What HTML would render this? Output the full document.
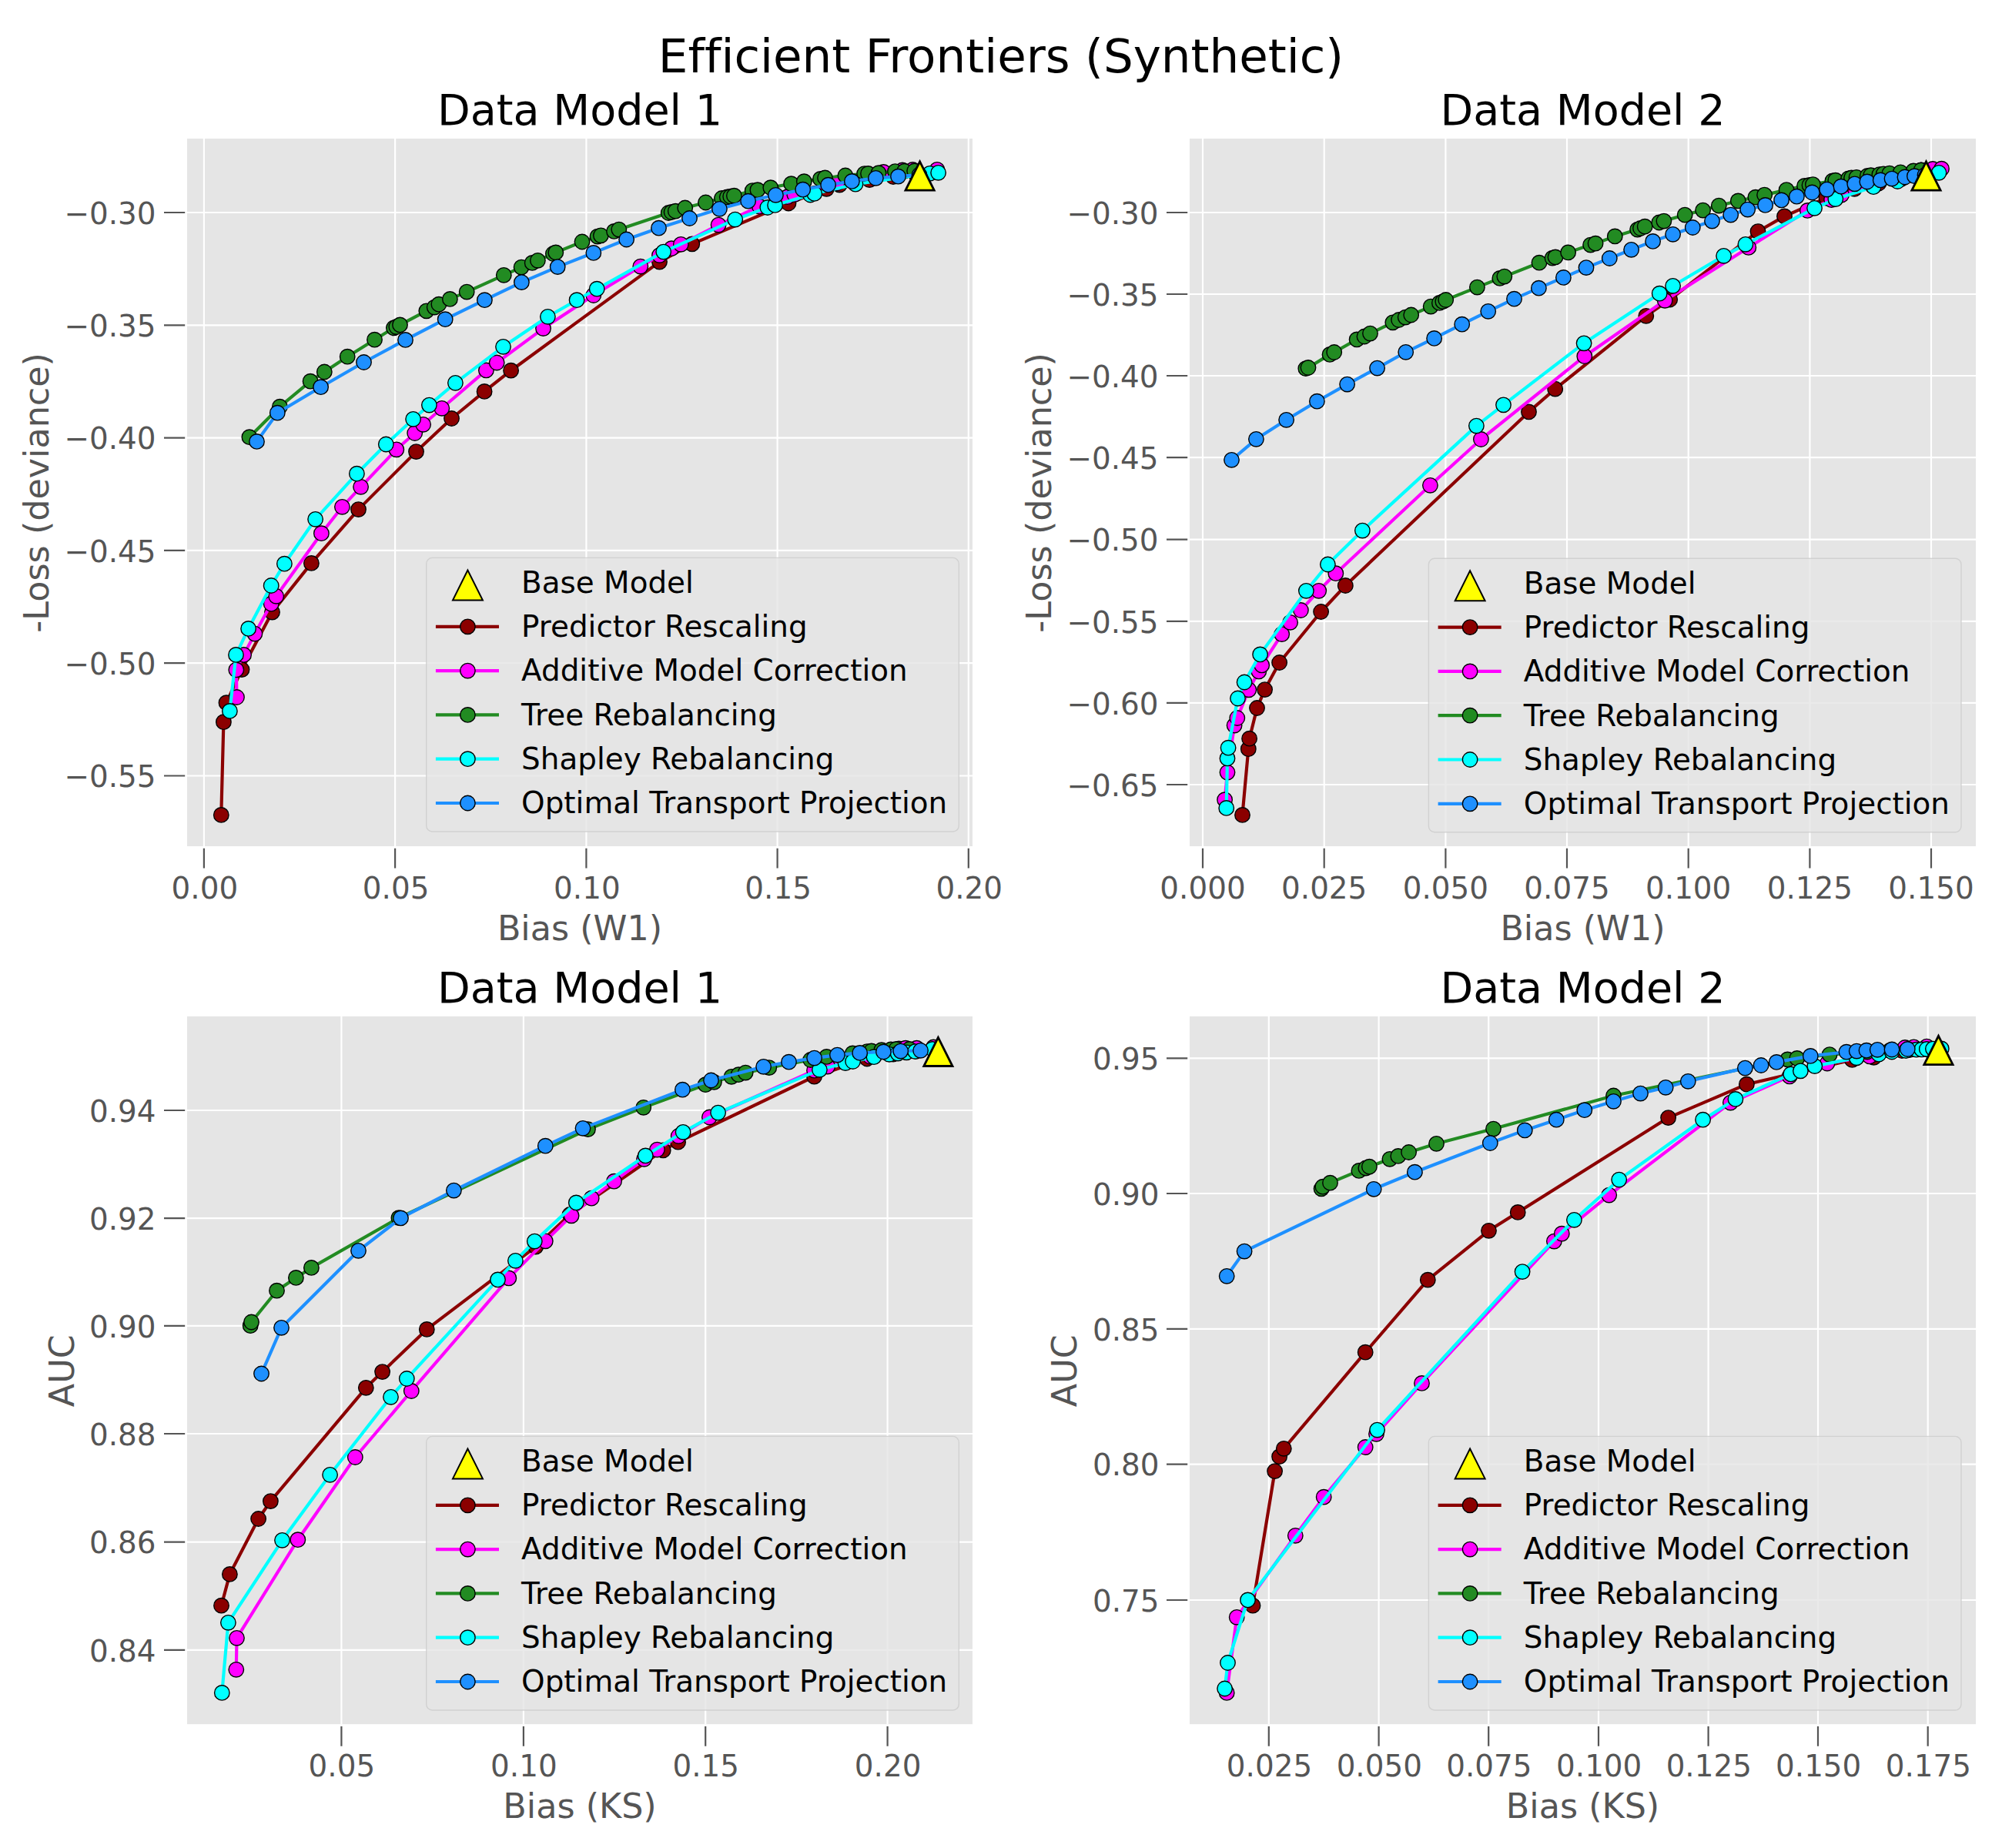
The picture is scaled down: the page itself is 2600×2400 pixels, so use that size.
<!DOCTYPE html>
<html><head><meta charset="utf-8"><title>Efficient Frontiers (Synthetic)</title>
<style>html,body{margin:0;padding:0;background:#fff}svg{display:block;font-variant-ligatures:none;font-feature-settings:"liga" 0,"clig" 0}</style></head>
<body>
<svg width="2600" height="2400" viewBox="0 0 2600 2400" font-family='"DejaVu Sans","Liberation Sans",sans-serif'>
<rect width="2600" height="2400" fill="#fff"/>
<defs>
<clipPath id="c1"><rect x="243" y="180" width="1020" height="919"/></clipPath>
<clipPath id="c2"><rect x="1545" y="180" width="1021" height="919"/></clipPath>
<clipPath id="c3"><rect x="243" y="1320" width="1020" height="919.2"/></clipPath>
<clipPath id="c4"><rect x="1545" y="1320" width="1021" height="919.2"/></clipPath>
</defs>
<text x="1300" y="94" font-size="61.1" text-anchor="middle" fill="#000">Efficient Frontiers (Synthetic)</text>
<g id="ax1">
<rect x="243" y="180" width="1020" height="919" fill="#E5E5E5"/>
<path d="M264.9 180V1099M513.1 180V1099M761.4 180V1099M1009.6 180V1099M1257.8 180V1099M243 276H1263M243 422.3H1263M243 568.6H1263M243 714.9H1263M243 861.2H1263M243 1007.5H1263" stroke="#fff" stroke-width="2.2" fill="none"/>
<path d="M264.9 1101.8V1127.6M513.1 1101.8V1127.6M761.4 1101.8V1127.6M1009.6 1101.8V1127.6M1257.8 1101.8V1127.6M240.2 276H213M240.2 422.3H213M240.2 568.6H213M240.2 714.9H213M240.2 861.2H213M240.2 1007.5H213" stroke="#555555" stroke-width="2.2" fill="none"/>
<g font-size="38.89" fill="#555555">
<text x="265.9" y="1167" text-anchor="middle">0.00</text>
<text x="514.1" y="1167" text-anchor="middle">0.05</text>
<text x="762.4" y="1167" text-anchor="middle">0.10</text>
<text x="1010.6" y="1167" text-anchor="middle">0.15</text>
<text x="1258.8" y="1167" text-anchor="middle">0.20</text>
<text x="202.6" y="290.7" text-anchor="end">−0.30</text>
<text x="202.6" y="437" text-anchor="end">−0.35</text>
<text x="202.6" y="583.3" text-anchor="end">−0.40</text>
<text x="202.6" y="729.6" text-anchor="end">−0.45</text>
<text x="202.6" y="875.9" text-anchor="end">−0.50</text>
<text x="202.6" y="1022.2" text-anchor="end">−0.55</text>
</g>
<text x="753" y="1221" font-size="44.44" text-anchor="middle" fill="#555555">Bias (W1)</text>
<text transform="translate(63.3 639.9) rotate(-90)" font-size="44.44" text-anchor="middle" fill="#555555">-Loss (deviance)</text>
<text x="753" y="161.6" font-size="55.56" text-anchor="middle" fill="#000">Data Model 1</text>
<g clip-path="url(#c1)">
<polyline points="287.3,1058.4 290.4,937.7 294,912.7 314,869.6 353.5,795.1 404.4,731.4 465.5,661.6 540.5,586.6 586.5,543.5 629.1,508.4 663.6,481.2 856.5,340.1 898.8,316.8 1024,264 1073.4,245.3 1090.3,240.1 1129.2,233.6 1160,229.5 1190,227" fill="none" stroke="#8B0000" stroke-width="4.17" stroke-linejoin="round" stroke-linecap="square"/>
<g fill="#8B0000" stroke="#000" stroke-width="1.4"><circle cx="287.3" cy="1058.4" r="9.72"/><circle cx="290.4" cy="937.7" r="9.72"/><circle cx="294" cy="912.7" r="9.72"/><circle cx="314" cy="869.6" r="9.72"/><circle cx="353.5" cy="795.1" r="9.72"/><circle cx="404.4" cy="731.4" r="9.72"/><circle cx="465.5" cy="661.6" r="9.72"/><circle cx="540.5" cy="586.6" r="9.72"/><circle cx="586.5" cy="543.5" r="9.72"/><circle cx="629.1" cy="508.4" r="9.72"/><circle cx="663.6" cy="481.2" r="9.72"/><circle cx="856.5" cy="340.1" r="9.72"/><circle cx="898.8" cy="316.8" r="9.72"/><circle cx="1024" cy="264" r="9.72"/><circle cx="1073.4" cy="245.3" r="9.72"/><circle cx="1090.3" cy="240.1" r="9.72"/><circle cx="1129.2" cy="233.6" r="9.72"/><circle cx="1160" cy="229.5" r="9.72"/><circle cx="1190" cy="227" r="9.72"/></g>
<polyline points="307.5,905.5 306.8,869.9 316.6,850.4 330.9,823.1 352.2,784.2 358.7,774.3 417.4,692.7 444.4,658.3 468.6,632.3 514.8,583.8 538.7,562.5 549.6,551.3 573.8,530.3 631.4,480.9 645.2,471 705.5,426.6 770.8,383.5 831.8,346.1 856.5,331.6 872.1,322.7 884.3,317.3 933.1,292.1 986.4,268.2 1022.7,255.7 1031.8,252.6 1087,238 1147.4,223.4 1172,221 1185.3,220.5 1217,220.3" fill="none" stroke="#FF00FF" stroke-width="4.17" stroke-linejoin="round" stroke-linecap="square"/>
<g fill="#FF00FF" stroke="#000" stroke-width="1.4"><circle cx="307.5" cy="905.5" r="9.72"/><circle cx="306.8" cy="869.9" r="9.72"/><circle cx="316.6" cy="850.4" r="9.72"/><circle cx="330.9" cy="823.1" r="9.72"/><circle cx="352.2" cy="784.2" r="9.72"/><circle cx="358.7" cy="774.3" r="9.72"/><circle cx="417.4" cy="692.7" r="9.72"/><circle cx="444.4" cy="658.3" r="9.72"/><circle cx="468.6" cy="632.3" r="9.72"/><circle cx="514.8" cy="583.8" r="9.72"/><circle cx="538.7" cy="562.5" r="9.72"/><circle cx="549.6" cy="551.3" r="9.72"/><circle cx="573.8" cy="530.3" r="9.72"/><circle cx="631.4" cy="480.9" r="9.72"/><circle cx="645.2" cy="471" r="9.72"/><circle cx="705.5" cy="426.6" r="9.72"/><circle cx="770.8" cy="383.5" r="9.72"/><circle cx="831.8" cy="346.1" r="9.72"/><circle cx="856.5" cy="331.6" r="9.72"/><circle cx="872.1" cy="322.7" r="9.72"/><circle cx="884.3" cy="317.3" r="9.72"/><circle cx="933.1" cy="292.1" r="9.72"/><circle cx="986.4" cy="268.2" r="9.72"/><circle cx="1022.7" cy="255.7" r="9.72"/><circle cx="1031.8" cy="252.6" r="9.72"/><circle cx="1087" cy="238" r="9.72"/><circle cx="1147.4" cy="223.4" r="9.72"/><circle cx="1172" cy="221" r="9.72"/><circle cx="1185.3" cy="220.5" r="9.72"/><circle cx="1217" cy="220.3" r="9.72"/></g>
<polyline points="323.9,567.7 363.4,528.2 403.1,495.2 421.3,483 451.2,463.2 486.5,441.2 511.4,425.8 514.8,424.5 519.5,421.9 553.8,403.8 564.2,399.1 569.9,395.2 584.4,388.4 606.2,379.1 654.3,357.3 677.1,347.1 691.2,341.4 698.4,338.3 718.4,329.5 721.8,327.9 756,314 776,307.1 780.4,305.8 797.5,300.4 803.8,298.1 868.2,276.5 872.1,275.5 877.3,274.2 889.7,270 916.5,263 937.5,257.5 944.3,256 948.7,255.2 953.4,254.2 977.2,247.6 983.9,246.7 1000.8,243.7 1027.6,238.7 1044.3,235.7 1065.4,232.4 1071.5,231 1097.9,228 1122.6,225.6 1127.5,225.4 1141,224.7 1162.5,222.6 1174.6,222.2 1187.6,222" fill="none" stroke="#228B22" stroke-width="4.17" stroke-linejoin="round" stroke-linecap="square"/>
<g fill="#228B22" stroke="#000" stroke-width="1.4"><circle cx="323.9" cy="567.7" r="9.72"/><circle cx="363.4" cy="528.2" r="9.72"/><circle cx="403.1" cy="495.2" r="9.72"/><circle cx="421.3" cy="483" r="9.72"/><circle cx="451.2" cy="463.2" r="9.72"/><circle cx="486.5" cy="441.2" r="9.72"/><circle cx="511.4" cy="425.8" r="9.72"/><circle cx="514.8" cy="424.5" r="9.72"/><circle cx="519.5" cy="421.9" r="9.72"/><circle cx="553.8" cy="403.8" r="9.72"/><circle cx="564.2" cy="399.1" r="9.72"/><circle cx="569.9" cy="395.2" r="9.72"/><circle cx="584.4" cy="388.4" r="9.72"/><circle cx="606.2" cy="379.1" r="9.72"/><circle cx="654.3" cy="357.3" r="9.72"/><circle cx="677.1" cy="347.1" r="9.72"/><circle cx="691.2" cy="341.4" r="9.72"/><circle cx="698.4" cy="338.3" r="9.72"/><circle cx="718.4" cy="329.5" r="9.72"/><circle cx="721.8" cy="327.9" r="9.72"/><circle cx="756" cy="314" r="9.72"/><circle cx="776" cy="307.1" r="9.72"/><circle cx="780.4" cy="305.8" r="9.72"/><circle cx="797.5" cy="300.4" r="9.72"/><circle cx="803.8" cy="298.1" r="9.72"/><circle cx="868.2" cy="276.5" r="9.72"/><circle cx="872.1" cy="275.5" r="9.72"/><circle cx="877.3" cy="274.2" r="9.72"/><circle cx="889.7" cy="270" r="9.72"/><circle cx="916.5" cy="263" r="9.72"/><circle cx="937.5" cy="257.5" r="9.72"/><circle cx="944.3" cy="256" r="9.72"/><circle cx="948.7" cy="255.2" r="9.72"/><circle cx="953.4" cy="254.2" r="9.72"/><circle cx="977.2" cy="247.6" r="9.72"/><circle cx="983.9" cy="246.7" r="9.72"/><circle cx="1000.8" cy="243.7" r="9.72"/><circle cx="1027.6" cy="238.7" r="9.72"/><circle cx="1044.3" cy="235.7" r="9.72"/><circle cx="1065.4" cy="232.4" r="9.72"/><circle cx="1071.5" cy="231" r="9.72"/><circle cx="1097.9" cy="228" r="9.72"/><circle cx="1122.6" cy="225.6" r="9.72"/><circle cx="1127.5" cy="225.4" r="9.72"/><circle cx="1141" cy="224.7" r="9.72"/><circle cx="1162.5" cy="222.6" r="9.72"/><circle cx="1174.6" cy="222.2" r="9.72"/><circle cx="1187.6" cy="222" r="9.72"/></g>
<polyline points="298.4,923.4 306.5,850.4 322.6,816.4 352.2,760.5 369.4,732.2 409.6,674.3 463.4,615.2 501.3,577 536.6,544.3 557.4,526.1 591.4,497.3 653.5,450.3 711.4,411.3 749.1,389.7 775.2,375.2 861.7,327.1 954.7,285.1 996.8,269.5 1006.6,266.4 1052.4,253 1057.7,251.4 1111,239.2 1207.5,225.3 1218.6,224.3" fill="none" stroke="#00FFFF" stroke-width="4.17" stroke-linejoin="round" stroke-linecap="square"/>
<g fill="#00FFFF" stroke="#000" stroke-width="1.4"><circle cx="298.4" cy="923.4" r="9.72"/><circle cx="306.5" cy="850.4" r="9.72"/><circle cx="322.6" cy="816.4" r="9.72"/><circle cx="352.2" cy="760.5" r="9.72"/><circle cx="369.4" cy="732.2" r="9.72"/><circle cx="409.6" cy="674.3" r="9.72"/><circle cx="463.4" cy="615.2" r="9.72"/><circle cx="501.3" cy="577" r="9.72"/><circle cx="536.6" cy="544.3" r="9.72"/><circle cx="557.4" cy="526.1" r="9.72"/><circle cx="591.4" cy="497.3" r="9.72"/><circle cx="653.5" cy="450.3" r="9.72"/><circle cx="711.4" cy="411.3" r="9.72"/><circle cx="749.1" cy="389.7" r="9.72"/><circle cx="775.2" cy="375.2" r="9.72"/><circle cx="861.7" cy="327.1" r="9.72"/><circle cx="954.7" cy="285.1" r="9.72"/><circle cx="996.8" cy="269.5" r="9.72"/><circle cx="1006.6" cy="266.4" r="9.72"/><circle cx="1052.4" cy="253" r="9.72"/><circle cx="1057.7" cy="251.4" r="9.72"/><circle cx="1111" cy="239.2" r="9.72"/><circle cx="1207.5" cy="225.3" r="9.72"/><circle cx="1218.6" cy="224.3" r="9.72"/></g>
<polyline points="333.5,573.4 360.3,536.2 416.6,502.7 472.5,470.5 526.5,441.4 578.2,414.7 629.4,389.7 677.4,366.6 724.2,346.6 770.8,328.4 813.6,311 855.5,296.2 895.5,283.5 934.4,271.3 971.6,261.2 1007.4,253.3 1042.7,246.2 1075.6,240.2 1106.4,235.4 1137.4,231.3 1166.5,229.2 1194,227" fill="none" stroke="#1E90FF" stroke-width="4.17" stroke-linejoin="round" stroke-linecap="square"/>
<g fill="#1E90FF" stroke="#000" stroke-width="1.4"><circle cx="333.5" cy="573.4" r="9.72"/><circle cx="360.3" cy="536.2" r="9.72"/><circle cx="416.6" cy="502.7" r="9.72"/><circle cx="472.5" cy="470.5" r="9.72"/><circle cx="526.5" cy="441.4" r="9.72"/><circle cx="578.2" cy="414.7" r="9.72"/><circle cx="629.4" cy="389.7" r="9.72"/><circle cx="677.4" cy="366.6" r="9.72"/><circle cx="724.2" cy="346.6" r="9.72"/><circle cx="770.8" cy="328.4" r="9.72"/><circle cx="813.6" cy="311" r="9.72"/><circle cx="855.5" cy="296.2" r="9.72"/><circle cx="895.5" cy="283.5" r="9.72"/><circle cx="934.4" cy="271.3" r="9.72"/><circle cx="971.6" cy="261.2" r="9.72"/><circle cx="1007.4" cy="253.3" r="9.72"/><circle cx="1042.7" cy="246.2" r="9.72"/><circle cx="1075.6" cy="240.2" r="9.72"/><circle cx="1106.4" cy="235.4" r="9.72"/><circle cx="1137.4" cy="231.3" r="9.72"/><circle cx="1166.5" cy="229.2" r="9.72"/><circle cx="1194" cy="227" r="9.72"/></g>
<path d="M1194.6 209.9L1176 247.1L1213.2 247.1Z" fill="#FFFF00" stroke="#000" stroke-width="2.8" stroke-linejoin="miter" stroke-miterlimit="10"/>
</g>
<rect x="553.7" y="724.4" width="691.6" height="355.6" rx="7.8" fill="#E5E5E5" fill-opacity="0.8" stroke="#CCCCCC" stroke-opacity="0.8" stroke-width="1.4"/>
<path d="M607.4 740.5L588 779.5L626.9 779.5Z" fill="#FFFF00" stroke="#000" stroke-width="2.0" stroke-linejoin="miter" stroke-miterlimit="10"/>
<g font-size="38.89" fill="#000">
<text x="677.1" y="769.8">Base Model</text>
<path d="M568 813.8H645.9" stroke="#8B0000" stroke-width="4.17" stroke-linecap="square"/>
<circle cx="607.4" cy="813.8" r="9.72" fill="#8B0000" stroke="#000" stroke-width="1.4"/>
<text x="677.1" y="827.1">Predictor Rescaling</text>
<path d="M568 871.1H645.9" stroke="#FF00FF" stroke-width="4.17" stroke-linecap="square"/>
<circle cx="607.4" cy="871.1" r="9.72" fill="#FF00FF" stroke="#000" stroke-width="1.4"/>
<text x="677.1" y="884.4">Additive Model Correction</text>
<path d="M568 928.4H645.9" stroke="#228B22" stroke-width="4.17" stroke-linecap="square"/>
<circle cx="607.4" cy="928.4" r="9.72" fill="#228B22" stroke="#000" stroke-width="1.4"/>
<text x="677.1" y="941.7">Tree Rebalancing</text>
<path d="M568 985.7H645.9" stroke="#00FFFF" stroke-width="4.17" stroke-linecap="square"/>
<circle cx="607.4" cy="985.7" r="9.72" fill="#00FFFF" stroke="#000" stroke-width="1.4"/>
<text x="677.1" y="999">Shapley Rebalancing</text>
<path d="M568 1043H645.9" stroke="#1E90FF" stroke-width="4.17" stroke-linecap="square"/>
<circle cx="607.4" cy="1043" r="9.72" fill="#1E90FF" stroke="#000" stroke-width="1.4"/>
<text x="677.1" y="1056.3">Optimal Transport Projection</text>
</g>
</g>
<g id="ax2">
<rect x="1545" y="180" width="1021" height="919" fill="#E5E5E5"/>
<path d="M1562 180V1099M1719.7 180V1099M1877.4 180V1099M2035 180V1099M2192.7 180V1099M2350.4 180V1099M2508 180V1099M1545 276H2566M1545 382H2566M1545 488H2566M1545 594.1H2566M1545 700.6H2566M1545 806.8H2566M1545 912.8H2566M1545 1019H2566" stroke="#fff" stroke-width="2.2" fill="none"/>
<path d="M1562 1101.8V1127.6M1719.7 1101.8V1127.6M1877.4 1101.8V1127.6M2035 1101.8V1127.6M2192.7 1101.8V1127.6M2350.4 1101.8V1127.6M2508 1101.8V1127.6M1542.2 276H1515M1542.2 382H1515M1542.2 488H1515M1542.2 594.1H1515M1542.2 700.6H1515M1542.2 806.8H1515M1542.2 912.8H1515M1542.2 1019H1515" stroke="#555555" stroke-width="2.2" fill="none"/>
<g font-size="38.89" fill="#555555">
<text x="1562" y="1167" text-anchor="middle">0.000</text>
<text x="1719.7" y="1167" text-anchor="middle">0.025</text>
<text x="1877.4" y="1167" text-anchor="middle">0.050</text>
<text x="2035" y="1167" text-anchor="middle">0.075</text>
<text x="2192.7" y="1167" text-anchor="middle">0.100</text>
<text x="2350.4" y="1167" text-anchor="middle">0.125</text>
<text x="2508" y="1167" text-anchor="middle">0.150</text>
<text x="1504.6" y="290.7" text-anchor="end">−0.30</text>
<text x="1504.6" y="396.7" text-anchor="end">−0.35</text>
<text x="1504.6" y="502.7" text-anchor="end">−0.40</text>
<text x="1504.6" y="608.8" text-anchor="end">−0.45</text>
<text x="1504.6" y="715.3" text-anchor="end">−0.50</text>
<text x="1504.6" y="821.5" text-anchor="end">−0.55</text>
<text x="1504.6" y="927.5" text-anchor="end">−0.60</text>
<text x="1504.6" y="1033.7" text-anchor="end">−0.65</text>
</g>
<text x="2055.5" y="1221" font-size="44.44" text-anchor="middle" fill="#555555">Bias (W1)</text>
<text transform="translate(1365.3 639.9) rotate(-90)" font-size="44.44" text-anchor="middle" fill="#555555">-Loss (deviance)</text>
<text x="2055.5" y="161.6" font-size="55.56" text-anchor="middle" fill="#000">Data Model 2</text>
<g clip-path="url(#c2)">
<polyline points="1613.5,1058.4 1621.3,972.7 1622.6,959.2 1632.5,919.5 1642.6,895.6 1661.6,860.5 1715.6,794.5 1747.3,760.5 1985.5,534.9 2019.7,505.1 2137.8,410.3 2168.7,389 2283,300.6 2317.5,280.9 2372,257 2408.4,245.3 2440,238 2470,232 2500,228" fill="none" stroke="#8B0000" stroke-width="4.17" stroke-linejoin="round" stroke-linecap="square"/>
<g fill="#8B0000" stroke="#000" stroke-width="1.4"><circle cx="1613.5" cy="1058.4" r="9.72"/><circle cx="1621.3" cy="972.7" r="9.72"/><circle cx="1622.6" cy="959.2" r="9.72"/><circle cx="1632.5" cy="919.5" r="9.72"/><circle cx="1642.6" cy="895.6" r="9.72"/><circle cx="1661.6" cy="860.5" r="9.72"/><circle cx="1715.6" cy="794.5" r="9.72"/><circle cx="1747.3" cy="760.5" r="9.72"/><circle cx="1985.5" cy="534.9" r="9.72"/><circle cx="2019.7" cy="505.1" r="9.72"/><circle cx="2137.8" cy="410.3" r="9.72"/><circle cx="2168.7" cy="389" r="9.72"/><circle cx="2283" cy="300.6" r="9.72"/><circle cx="2317.5" cy="280.9" r="9.72"/><circle cx="2372" cy="257" r="9.72"/><circle cx="2408.4" cy="245.3" r="9.72"/><circle cx="2440" cy="238" r="9.72"/><circle cx="2470" cy="232" r="9.72"/><circle cx="2500" cy="228" r="9.72"/></g>
<polyline points="1590.6,1038.7 1594,1003.1 1603.1,942.1 1606.8,932.5 1621.8,895.8 1634.8,871.9 1638.7,863.9 1664.7,823.6 1675.6,808.3 1689.4,792.5 1712.7,767.3 1734.8,744.7 1857.4,630.3 1923.4,570.5 2057.8,462.7 2162.2,390.3 2270.8,321.4 2347.4,273.4 2378.6,259.6 2391.6,253.1 2430,240 2460,232 2495,221 2510,219.5 2521.5,219.2" fill="none" stroke="#FF00FF" stroke-width="4.17" stroke-linejoin="round" stroke-linecap="square"/>
<g fill="#FF00FF" stroke="#000" stroke-width="1.4"><circle cx="1590.6" cy="1038.7" r="9.72"/><circle cx="1594" cy="1003.1" r="9.72"/><circle cx="1603.1" cy="942.1" r="9.72"/><circle cx="1606.8" cy="932.5" r="9.72"/><circle cx="1621.8" cy="895.8" r="9.72"/><circle cx="1634.8" cy="871.9" r="9.72"/><circle cx="1638.7" cy="863.9" r="9.72"/><circle cx="1664.7" cy="823.6" r="9.72"/><circle cx="1675.6" cy="808.3" r="9.72"/><circle cx="1689.4" cy="792.5" r="9.72"/><circle cx="1712.7" cy="767.3" r="9.72"/><circle cx="1734.8" cy="744.7" r="9.72"/><circle cx="1857.4" cy="630.3" r="9.72"/><circle cx="1923.4" cy="570.5" r="9.72"/><circle cx="2057.8" cy="462.7" r="9.72"/><circle cx="2162.2" cy="390.3" r="9.72"/><circle cx="2270.8" cy="321.4" r="9.72"/><circle cx="2347.4" cy="273.4" r="9.72"/><circle cx="2378.6" cy="259.6" r="9.72"/><circle cx="2391.6" cy="253.1" r="9.72"/><circle cx="2430" cy="240" r="9.72"/><circle cx="2460" cy="232" r="9.72"/><circle cx="2495" cy="221" r="9.72"/><circle cx="2510" cy="219.5" r="9.72"/><circle cx="2521.5" cy="219.2" r="9.72"/></g>
<polyline points="1695.8,478.6 1699,477.5 1727,460.4 1732.7,457.5 1762.1,440.9 1772,437 1779.5,433.1 1808.8,418.8 1816.6,415.5 1825.2,412.1 1832.7,409 1858.2,398.1 1869.4,393.4 1873.8,391.6 1877.7,389.5 1918.4,373.1 1947.8,361.4 1953.8,359.1 1999,341.2 2016.1,335.2 2020,333.9 2036.6,327.9 2065.6,318.1 2072.1,316.2 2097.3,306.9 2126.6,298.1 2130.5,296.5 2136.2,294.2 2154.7,289 2160.9,287.1 2188.2,279.1 2211.6,273.1 2232.3,267.1 2257.3,260.9 2279.9,256.2 2291.6,253.1 2320.1,246.6 2343.5,241.4 2350,240.4 2354.4,239.6 2379.9,234.9 2383.8,234.2 2400.6,231.8 2404.5,231 2411,230.3 2425.3,228.4 2429.7,227.7 2440.9,226.6 2446.1,225.8 2453.9,225.1 2468.2,223.8 2485,221.9 2495,221" fill="none" stroke="#228B22" stroke-width="4.17" stroke-linejoin="round" stroke-linecap="square"/>
<g fill="#228B22" stroke="#000" stroke-width="1.4"><circle cx="1695.8" cy="478.6" r="9.72"/><circle cx="1699" cy="477.5" r="9.72"/><circle cx="1727" cy="460.4" r="9.72"/><circle cx="1732.7" cy="457.5" r="9.72"/><circle cx="1762.1" cy="440.9" r="9.72"/><circle cx="1772" cy="437" r="9.72"/><circle cx="1779.5" cy="433.1" r="9.72"/><circle cx="1808.8" cy="418.8" r="9.72"/><circle cx="1816.6" cy="415.5" r="9.72"/><circle cx="1825.2" cy="412.1" r="9.72"/><circle cx="1832.7" cy="409" r="9.72"/><circle cx="1858.2" cy="398.1" r="9.72"/><circle cx="1869.4" cy="393.4" r="9.72"/><circle cx="1873.8" cy="391.6" r="9.72"/><circle cx="1877.7" cy="389.5" r="9.72"/><circle cx="1918.4" cy="373.1" r="9.72"/><circle cx="1947.8" cy="361.4" r="9.72"/><circle cx="1953.8" cy="359.1" r="9.72"/><circle cx="1999" cy="341.2" r="9.72"/><circle cx="2016.1" cy="335.2" r="9.72"/><circle cx="2020" cy="333.9" r="9.72"/><circle cx="2036.6" cy="327.9" r="9.72"/><circle cx="2065.6" cy="318.1" r="9.72"/><circle cx="2072.1" cy="316.2" r="9.72"/><circle cx="2097.3" cy="306.9" r="9.72"/><circle cx="2126.6" cy="298.1" r="9.72"/><circle cx="2130.5" cy="296.5" r="9.72"/><circle cx="2136.2" cy="294.2" r="9.72"/><circle cx="2154.7" cy="289" r="9.72"/><circle cx="2160.9" cy="287.1" r="9.72"/><circle cx="2188.2" cy="279.1" r="9.72"/><circle cx="2211.6" cy="273.1" r="9.72"/><circle cx="2232.3" cy="267.1" r="9.72"/><circle cx="2257.3" cy="260.9" r="9.72"/><circle cx="2279.9" cy="256.2" r="9.72"/><circle cx="2291.6" cy="253.1" r="9.72"/><circle cx="2320.1" cy="246.6" r="9.72"/><circle cx="2343.5" cy="241.4" r="9.72"/><circle cx="2350" cy="240.4" r="9.72"/><circle cx="2354.4" cy="239.6" r="9.72"/><circle cx="2379.9" cy="234.9" r="9.72"/><circle cx="2383.8" cy="234.2" r="9.72"/><circle cx="2400.6" cy="231.8" r="9.72"/><circle cx="2404.5" cy="231" r="9.72"/><circle cx="2411" cy="230.3" r="9.72"/><circle cx="2425.3" cy="228.4" r="9.72"/><circle cx="2429.7" cy="227.7" r="9.72"/><circle cx="2440.9" cy="226.6" r="9.72"/><circle cx="2446.1" cy="225.8" r="9.72"/><circle cx="2453.9" cy="225.1" r="9.72"/><circle cx="2468.2" cy="223.8" r="9.72"/><circle cx="2485" cy="221.9" r="9.72"/><circle cx="2495" cy="221" r="9.72"/></g>
<polyline points="1592.7,1049.4 1594,984.9 1595.1,971.2 1607.5,907 1616.1,886 1636.6,849.9 1696.4,767.3 1724.4,733 1769.4,689.1 1917.4,553.1 1952.5,525.8 2057.1,445.8 2155.2,381.2 2172.6,371.3 2238.6,332.3 2266.9,317.3 2356.5,270.3 2383.8,258.6 2433.1,242.7 2464.3,235.5 2518,224.3" fill="none" stroke="#00FFFF" stroke-width="4.17" stroke-linejoin="round" stroke-linecap="square"/>
<g fill="#00FFFF" stroke="#000" stroke-width="1.4"><circle cx="1592.7" cy="1049.4" r="9.72"/><circle cx="1594" cy="984.9" r="9.72"/><circle cx="1595.1" cy="971.2" r="9.72"/><circle cx="1607.5" cy="907" r="9.72"/><circle cx="1616.1" cy="886" r="9.72"/><circle cx="1636.6" cy="849.9" r="9.72"/><circle cx="1696.4" cy="767.3" r="9.72"/><circle cx="1724.4" cy="733" r="9.72"/><circle cx="1769.4" cy="689.1" r="9.72"/><circle cx="1917.4" cy="553.1" r="9.72"/><circle cx="1952.5" cy="525.8" r="9.72"/><circle cx="2057.1" cy="445.8" r="9.72"/><circle cx="2155.2" cy="381.2" r="9.72"/><circle cx="2172.6" cy="371.3" r="9.72"/><circle cx="2238.6" cy="332.3" r="9.72"/><circle cx="2266.9" cy="317.3" r="9.72"/><circle cx="2356.5" cy="270.3" r="9.72"/><circle cx="2383.8" cy="258.6" r="9.72"/><circle cx="2433.1" cy="242.7" r="9.72"/><circle cx="2464.3" cy="235.5" r="9.72"/><circle cx="2518" cy="224.3" r="9.72"/></g>
<polyline points="1599.5,597.3 1631.4,570.3 1670.6,545.3 1710.4,521.2 1749.6,499.1 1788.6,478.1 1825.7,457.3 1862.6,439.4 1898.7,421.2 1932.7,404.3 1966.5,388.2 1998.4,374.2 2030.4,360.4 2060,347.6 2090.3,335.5 2118.6,324.3 2146.6,313.4 2172.6,304.3 2198.3,295.5 2223.5,287.1 2247.7,279.1 2269.7,272.1 2292.6,266.4 2313.6,259.9 2333.4,255.2 2353.4,250 2372.6,246.1 2391,242.2 2408.7,238.8 2424.8,236 2442.2,233.9 2457,232.1 2473.9,230 2486.4,228.7 2500,227.5" fill="none" stroke="#1E90FF" stroke-width="4.17" stroke-linejoin="round" stroke-linecap="square"/>
<g fill="#1E90FF" stroke="#000" stroke-width="1.4"><circle cx="1599.5" cy="597.3" r="9.72"/><circle cx="1631.4" cy="570.3" r="9.72"/><circle cx="1670.6" cy="545.3" r="9.72"/><circle cx="1710.4" cy="521.2" r="9.72"/><circle cx="1749.6" cy="499.1" r="9.72"/><circle cx="1788.6" cy="478.1" r="9.72"/><circle cx="1825.7" cy="457.3" r="9.72"/><circle cx="1862.6" cy="439.4" r="9.72"/><circle cx="1898.7" cy="421.2" r="9.72"/><circle cx="1932.7" cy="404.3" r="9.72"/><circle cx="1966.5" cy="388.2" r="9.72"/><circle cx="1998.4" cy="374.2" r="9.72"/><circle cx="2030.4" cy="360.4" r="9.72"/><circle cx="2060" cy="347.6" r="9.72"/><circle cx="2090.3" cy="335.5" r="9.72"/><circle cx="2118.6" cy="324.3" r="9.72"/><circle cx="2146.6" cy="313.4" r="9.72"/><circle cx="2172.6" cy="304.3" r="9.72"/><circle cx="2198.3" cy="295.5" r="9.72"/><circle cx="2223.5" cy="287.1" r="9.72"/><circle cx="2247.7" cy="279.1" r="9.72"/><circle cx="2269.7" cy="272.1" r="9.72"/><circle cx="2292.6" cy="266.4" r="9.72"/><circle cx="2313.6" cy="259.9" r="9.72"/><circle cx="2333.4" cy="255.2" r="9.72"/><circle cx="2353.4" cy="250" r="9.72"/><circle cx="2372.6" cy="246.1" r="9.72"/><circle cx="2391" cy="242.2" r="9.72"/><circle cx="2408.7" cy="238.8" r="9.72"/><circle cx="2424.8" cy="236" r="9.72"/><circle cx="2442.2" cy="233.9" r="9.72"/><circle cx="2457" cy="232.1" r="9.72"/><circle cx="2473.9" cy="230" r="9.72"/><circle cx="2486.4" cy="228.7" r="9.72"/><circle cx="2500" cy="227.5" r="9.72"/></g>
<path d="M2501.5 209.9L2482.9 247.1L2520.1 247.1Z" fill="#FFFF00" stroke="#000" stroke-width="2.8" stroke-linejoin="miter" stroke-miterlimit="10"/>
</g>
<rect x="1855.4" y="725.2" width="691.6" height="355.6" rx="7.8" fill="#E5E5E5" fill-opacity="0.8" stroke="#CCCCCC" stroke-opacity="0.8" stroke-width="1.4"/>
<path d="M1909.1 741.3L1889.7 780.2L1928.6 780.2Z" fill="#FFFF00" stroke="#000" stroke-width="2.0" stroke-linejoin="miter" stroke-miterlimit="10"/>
<g font-size="38.89" fill="#000">
<text x="1978.8" y="770.6">Base Model</text>
<path d="M1869.7 814.6H1947.6" stroke="#8B0000" stroke-width="4.17" stroke-linecap="square"/>
<circle cx="1909.1" cy="814.6" r="9.72" fill="#8B0000" stroke="#000" stroke-width="1.4"/>
<text x="1978.8" y="827.9">Predictor Rescaling</text>
<path d="M1869.7 871.9H1947.6" stroke="#FF00FF" stroke-width="4.17" stroke-linecap="square"/>
<circle cx="1909.1" cy="871.9" r="9.72" fill="#FF00FF" stroke="#000" stroke-width="1.4"/>
<text x="1978.8" y="885.2">Additive Model Correction</text>
<path d="M1869.7 929.2H1947.6" stroke="#228B22" stroke-width="4.17" stroke-linecap="square"/>
<circle cx="1909.1" cy="929.2" r="9.72" fill="#228B22" stroke="#000" stroke-width="1.4"/>
<text x="1978.8" y="942.5">Tree Rebalancing</text>
<path d="M1869.7 986.5H1947.6" stroke="#00FFFF" stroke-width="4.17" stroke-linecap="square"/>
<circle cx="1909.1" cy="986.5" r="9.72" fill="#00FFFF" stroke="#000" stroke-width="1.4"/>
<text x="1978.8" y="999.8">Shapley Rebalancing</text>
<path d="M1869.7 1043.8H1947.6" stroke="#1E90FF" stroke-width="4.17" stroke-linecap="square"/>
<circle cx="1909.1" cy="1043.8" r="9.72" fill="#1E90FF" stroke="#000" stroke-width="1.4"/>
<text x="1978.8" y="1057.1">Optimal Transport Projection</text>
</g>
</g>
<g id="ax3">
<rect x="243" y="1320" width="1020" height="919.2" fill="#E5E5E5"/>
<path d="M443.4 1320V2239.2M679.9 1320V2239.2M916.2 1320V2239.2M1152.6 1320V2239.2M243 1442H1263M243 1582.1H1263M243 1721.9H1263M243 1862H1263M243 2002.7H1263M243 2142.8H1263" stroke="#fff" stroke-width="2.2" fill="none"/>
<path d="M443.4 2242V2267.8M679.9 2242V2267.8M916.2 2242V2267.8M1152.6 2242V2267.8M240.2 1442H213M240.2 1582.1H213M240.2 1721.9H213M240.2 1862H213M240.2 2002.7H213M240.2 2142.8H213" stroke="#555555" stroke-width="2.2" fill="none"/>
<g font-size="38.89" fill="#555555">
<text x="443.9" y="2307.2" text-anchor="middle">0.05</text>
<text x="680.4" y="2307.2" text-anchor="middle">0.10</text>
<text x="916.7" y="2307.2" text-anchor="middle">0.15</text>
<text x="1153.1" y="2307.2" text-anchor="middle">0.20</text>
<text x="202.6" y="1456.7" text-anchor="end">0.94</text>
<text x="202.6" y="1596.8" text-anchor="end">0.92</text>
<text x="202.6" y="1736.6" text-anchor="end">0.90</text>
<text x="202.6" y="1876.7" text-anchor="end">0.88</text>
<text x="202.6" y="2017.4" text-anchor="end">0.86</text>
<text x="202.6" y="2157.5" text-anchor="end">0.84</text>
</g>
<text x="753" y="2361.2" font-size="44.44" text-anchor="middle" fill="#555555">Bias (KS)</text>
<text transform="translate(95.7 1780.3) rotate(-90)" font-size="44.44" text-anchor="middle" fill="#555555">AUC</text>
<text x="753" y="1301.6" font-size="55.56" text-anchor="middle" fill="#000">Data Model 1</text>
<g clip-path="url(#c3)">
<polyline points="287.5,2085.2 298.4,2044.4 335.6,1972.5 351.4,1949.6 475.3,1802.3 496.6,1781.6 554.3,1726.4 695.8,1619.1 740,1577.5 861.2,1493.9 880.6,1483.2 1057.5,1398.2 1126,1375 1160,1369 1190,1365" fill="none" stroke="#8B0000" stroke-width="4.17" stroke-linejoin="round" stroke-linecap="square"/>
<g fill="#8B0000" stroke="#000" stroke-width="1.4"><circle cx="287.5" cy="2085.2" r="9.72"/><circle cx="298.4" cy="2044.4" r="9.72"/><circle cx="335.6" cy="1972.5" r="9.72"/><circle cx="351.4" cy="1949.6" r="9.72"/><circle cx="475.3" cy="1802.3" r="9.72"/><circle cx="496.6" cy="1781.6" r="9.72"/><circle cx="554.3" cy="1726.4" r="9.72"/><circle cx="695.8" cy="1619.1" r="9.72"/><circle cx="740" cy="1577.5" r="9.72"/><circle cx="861.2" cy="1493.9" r="9.72"/><circle cx="880.6" cy="1483.2" r="9.72"/><circle cx="1057.5" cy="1398.2" r="9.72"/><circle cx="1126" cy="1375" r="9.72"/><circle cx="1160" cy="1369" r="9.72"/><circle cx="1190" cy="1365" r="9.72"/></g>
<polyline points="306.8,2168.3 307.5,2127.3 386.8,1999.7 461.3,1892.5 534.3,1806.5 660.8,1659.9 708.3,1611.8 742.1,1578.8 768.2,1556.2 797.5,1534.2 836.5,1505.3 853.4,1493.1 881.2,1475.5 921.4,1451 1057.5,1390.2 1074.8,1385.1 1130,1372 1167.4,1361.8 1176.1,1361.2 1190.5,1361.2 1212.3,1360" fill="none" stroke="#FF00FF" stroke-width="4.17" stroke-linejoin="round" stroke-linecap="square"/>
<g fill="#FF00FF" stroke="#000" stroke-width="1.4"><circle cx="306.8" cy="2168.3" r="9.72"/><circle cx="307.5" cy="2127.3" r="9.72"/><circle cx="386.8" cy="1999.7" r="9.72"/><circle cx="461.3" cy="1892.5" r="9.72"/><circle cx="534.3" cy="1806.5" r="9.72"/><circle cx="660.8" cy="1659.9" r="9.72"/><circle cx="708.3" cy="1611.8" r="9.72"/><circle cx="742.1" cy="1578.8" r="9.72"/><circle cx="768.2" cy="1556.2" r="9.72"/><circle cx="797.5" cy="1534.2" r="9.72"/><circle cx="836.5" cy="1505.3" r="9.72"/><circle cx="853.4" cy="1493.1" r="9.72"/><circle cx="881.2" cy="1475.5" r="9.72"/><circle cx="921.4" cy="1451" r="9.72"/><circle cx="1057.5" cy="1390.2" r="9.72"/><circle cx="1074.8" cy="1385.1" r="9.72"/><circle cx="1130" cy="1372" r="9.72"/><circle cx="1167.4" cy="1361.8" r="9.72"/><circle cx="1176.1" cy="1361.2" r="9.72"/><circle cx="1190.5" cy="1361.2" r="9.72"/><circle cx="1212.3" cy="1360" r="9.72"/></g>
<polyline points="325.2,1721.7 326.5,1717 359.5,1676.2 384.4,1659.4 404.4,1646.4 517.9,1581.7 763.5,1466.6 835.7,1438.3 916.2,1408.7 927.4,1405.3 950,1398.3 959.1,1395.7 968.2,1393.1 998.8,1386.6 1052.6,1376.5 1073.5,1372.4 1107.3,1367.9 1126.1,1365.6 1131.8,1365 1144.9,1363.7 1157,1363 1164,1362.5 1181,1362.5" fill="none" stroke="#228B22" stroke-width="4.17" stroke-linejoin="round" stroke-linecap="square"/>
<g fill="#228B22" stroke="#000" stroke-width="1.4"><circle cx="325.2" cy="1721.7" r="9.72"/><circle cx="326.5" cy="1717" r="9.72"/><circle cx="359.5" cy="1676.2" r="9.72"/><circle cx="384.4" cy="1659.4" r="9.72"/><circle cx="404.4" cy="1646.4" r="9.72"/><circle cx="517.9" cy="1581.7" r="9.72"/><circle cx="763.5" cy="1466.6" r="9.72"/><circle cx="835.7" cy="1438.3" r="9.72"/><circle cx="916.2" cy="1408.7" r="9.72"/><circle cx="927.4" cy="1405.3" r="9.72"/><circle cx="950" cy="1398.3" r="9.72"/><circle cx="959.1" cy="1395.7" r="9.72"/><circle cx="968.2" cy="1393.1" r="9.72"/><circle cx="998.8" cy="1386.6" r="9.72"/><circle cx="1052.6" cy="1376.5" r="9.72"/><circle cx="1073.5" cy="1372.4" r="9.72"/><circle cx="1107.3" cy="1367.9" r="9.72"/><circle cx="1126.1" cy="1365.6" r="9.72"/><circle cx="1131.8" cy="1365" r="9.72"/><circle cx="1144.9" cy="1363.7" r="9.72"/><circle cx="1157" cy="1363" r="9.72"/><circle cx="1164" cy="1362.5" r="9.72"/><circle cx="1181" cy="1362.5" r="9.72"/></g>
<polyline points="288.3,2198.4 296.4,2107.3 366.5,2000.3 428.6,1915.3 507.5,1814.3 528.3,1790.5 646.5,1661.9 669.4,1637.3 694.3,1612.1 748.3,1561.9 838.3,1500.9 887.1,1470.3 932.6,1445.1 1064.4,1389.3 1098,1380.6 1107.6,1378.5 1135,1372.7 1154.9,1369.3 1166.1,1368.1 1177.3,1366.8 1188.6,1365.6 1211,1362.5" fill="none" stroke="#00FFFF" stroke-width="4.17" stroke-linejoin="round" stroke-linecap="square"/>
<g fill="#00FFFF" stroke="#000" stroke-width="1.4"><circle cx="288.3" cy="2198.4" r="9.72"/><circle cx="296.4" cy="2107.3" r="9.72"/><circle cx="366.5" cy="2000.3" r="9.72"/><circle cx="428.6" cy="1915.3" r="9.72"/><circle cx="507.5" cy="1814.3" r="9.72"/><circle cx="528.3" cy="1790.5" r="9.72"/><circle cx="646.5" cy="1661.9" r="9.72"/><circle cx="669.4" cy="1637.3" r="9.72"/><circle cx="694.3" cy="1612.1" r="9.72"/><circle cx="748.3" cy="1561.9" r="9.72"/><circle cx="838.3" cy="1500.9" r="9.72"/><circle cx="887.1" cy="1470.3" r="9.72"/><circle cx="932.6" cy="1445.1" r="9.72"/><circle cx="1064.4" cy="1389.3" r="9.72"/><circle cx="1098" cy="1380.6" r="9.72"/><circle cx="1107.6" cy="1378.5" r="9.72"/><circle cx="1135" cy="1372.7" r="9.72"/><circle cx="1154.9" cy="1369.3" r="9.72"/><circle cx="1166.1" cy="1368.1" r="9.72"/><circle cx="1177.3" cy="1366.8" r="9.72"/><circle cx="1188.6" cy="1365.6" r="9.72"/><circle cx="1211" cy="1362.5" r="9.72"/></g>
<polyline points="339.5,1784 365.5,1724.3 465.5,1624.3 520.5,1581.9 589.4,1546.1 708.3,1488.2 757,1465.3 886.4,1415.2 923.5,1403 991.6,1385.3 1024.5,1379.2 1057.6,1374.1 1087.4,1370.1 1116.7,1367.4 1147.4,1366 1169.7,1365.1 1195.6,1364.3" fill="none" stroke="#1E90FF" stroke-width="4.17" stroke-linejoin="round" stroke-linecap="square"/>
<g fill="#1E90FF" stroke="#000" stroke-width="1.4"><circle cx="339.5" cy="1784" r="9.72"/><circle cx="365.5" cy="1724.3" r="9.72"/><circle cx="465.5" cy="1624.3" r="9.72"/><circle cx="520.5" cy="1581.9" r="9.72"/><circle cx="589.4" cy="1546.1" r="9.72"/><circle cx="708.3" cy="1488.2" r="9.72"/><circle cx="757" cy="1465.3" r="9.72"/><circle cx="886.4" cy="1415.2" r="9.72"/><circle cx="923.5" cy="1403" r="9.72"/><circle cx="991.6" cy="1385.3" r="9.72"/><circle cx="1024.5" cy="1379.2" r="9.72"/><circle cx="1057.6" cy="1374.1" r="9.72"/><circle cx="1087.4" cy="1370.1" r="9.72"/><circle cx="1116.7" cy="1367.4" r="9.72"/><circle cx="1147.4" cy="1366" r="9.72"/><circle cx="1169.7" cy="1365.1" r="9.72"/><circle cx="1195.6" cy="1364.3" r="9.72"/></g>
<path d="M1218.4 1347.3L1199.8 1384.5L1237 1384.5Z" fill="#FFFF00" stroke="#000" stroke-width="2.8" stroke-linejoin="miter" stroke-miterlimit="10"/>
</g>
<rect x="553.7" y="1865.4" width="691.6" height="355.6" rx="7.8" fill="#E5E5E5" fill-opacity="0.8" stroke="#CCCCCC" stroke-opacity="0.8" stroke-width="1.4"/>
<path d="M607.4 1881.5L588 1920.4L626.9 1920.4Z" fill="#FFFF00" stroke="#000" stroke-width="2.0" stroke-linejoin="miter" stroke-miterlimit="10"/>
<g font-size="38.89" fill="#000">
<text x="677.1" y="1910.8">Base Model</text>
<path d="M568 1954.8H645.9" stroke="#8B0000" stroke-width="4.17" stroke-linecap="square"/>
<circle cx="607.4" cy="1954.8" r="9.72" fill="#8B0000" stroke="#000" stroke-width="1.4"/>
<text x="677.1" y="1968.1">Predictor Rescaling</text>
<path d="M568 2012.1H645.9" stroke="#FF00FF" stroke-width="4.17" stroke-linecap="square"/>
<circle cx="607.4" cy="2012.1" r="9.72" fill="#FF00FF" stroke="#000" stroke-width="1.4"/>
<text x="677.1" y="2025.4">Additive Model Correction</text>
<path d="M568 2069.4H645.9" stroke="#228B22" stroke-width="4.17" stroke-linecap="square"/>
<circle cx="607.4" cy="2069.4" r="9.72" fill="#228B22" stroke="#000" stroke-width="1.4"/>
<text x="677.1" y="2082.7">Tree Rebalancing</text>
<path d="M568 2126.7H645.9" stroke="#00FFFF" stroke-width="4.17" stroke-linecap="square"/>
<circle cx="607.4" cy="2126.7" r="9.72" fill="#00FFFF" stroke="#000" stroke-width="1.4"/>
<text x="677.1" y="2140">Shapley Rebalancing</text>
<path d="M568 2184H645.9" stroke="#1E90FF" stroke-width="4.17" stroke-linecap="square"/>
<circle cx="607.4" cy="2184" r="9.72" fill="#1E90FF" stroke="#000" stroke-width="1.4"/>
<text x="677.1" y="2197.3">Optimal Transport Projection</text>
</g>
</g>
<g id="ax4">
<rect x="1545" y="1320" width="1021" height="919.2" fill="#E5E5E5"/>
<path d="M1647.8 1320V2239.2M1790.6 1320V2239.2M1933.2 1320V2239.2M2076 1320V2239.2M2218.6 1320V2239.2M2361 1320V2239.2M2503.7 1320V2239.2M1545 1374.3H2566M1545 1550H2566M1545 1725.8H2566M1545 1901.7H2566M1545 2078H2566" stroke="#fff" stroke-width="2.2" fill="none"/>
<path d="M1647.8 2242V2267.8M1790.6 2242V2267.8M1933.2 2242V2267.8M2076 2242V2267.8M2218.6 2242V2267.8M2361 2242V2267.8M2503.7 2242V2267.8M1542.2 1374.3H1515M1542.2 1550H1515M1542.2 1725.8H1515M1542.2 1901.7H1515M1542.2 2078H1515" stroke="#555555" stroke-width="2.2" fill="none"/>
<g font-size="38.89" fill="#555555">
<text x="1648.5" y="2307.2" text-anchor="middle">0.025</text>
<text x="1791.3" y="2307.2" text-anchor="middle">0.050</text>
<text x="1933.9" y="2307.2" text-anchor="middle">0.075</text>
<text x="2076.7" y="2307.2" text-anchor="middle">0.100</text>
<text x="2219.3" y="2307.2" text-anchor="middle">0.125</text>
<text x="2361.7" y="2307.2" text-anchor="middle">0.150</text>
<text x="2504.4" y="2307.2" text-anchor="middle">0.175</text>
<text x="1505.6" y="1389" text-anchor="end">0.95</text>
<text x="1505.6" y="1564.7" text-anchor="end">0.90</text>
<text x="1505.6" y="1740.5" text-anchor="end">0.85</text>
<text x="1505.6" y="1916.4" text-anchor="end">0.80</text>
<text x="1505.6" y="2092.7" text-anchor="end">0.75</text>
</g>
<text x="2055.5" y="2361.2" font-size="44.44" text-anchor="middle" fill="#555555">Bias (KS)</text>
<text transform="translate(1397.7 1780.3) rotate(-90)" font-size="44.44" text-anchor="middle" fill="#555555">AUC</text>
<text x="2055.5" y="1301.6" font-size="55.56" text-anchor="middle" fill="#000">Data Model 2</text>
<g clip-path="url(#c4)">
<polyline points="1627,2085.2 1655.6,1910.6 1661.6,1891.7 1667.3,1881.3 1773.2,1756.2 1854.3,1662.2 1933.5,1598.3 1971.2,1574.4 2166.6,1451.6 2268.4,1408.2 2405.5,1376.4 2433.5,1373.3 2470,1364.5 2505,1363.5" fill="none" stroke="#8B0000" stroke-width="4.17" stroke-linejoin="round" stroke-linecap="square"/>
<g fill="#8B0000" stroke="#000" stroke-width="1.4"><circle cx="1627" cy="2085.2" r="9.72"/><circle cx="1655.6" cy="1910.6" r="9.72"/><circle cx="1661.6" cy="1891.7" r="9.72"/><circle cx="1667.3" cy="1881.3" r="9.72"/><circle cx="1773.2" cy="1756.2" r="9.72"/><circle cx="1854.3" cy="1662.2" r="9.72"/><circle cx="1933.5" cy="1598.3" r="9.72"/><circle cx="1971.2" cy="1574.4" r="9.72"/><circle cx="2166.6" cy="1451.6" r="9.72"/><circle cx="2268.4" cy="1408.2" r="9.72"/><circle cx="2405.5" cy="1376.4" r="9.72"/><circle cx="2433.5" cy="1373.3" r="9.72"/><circle cx="2470" cy="1364.5" r="9.72"/><circle cx="2505" cy="1363.5" r="9.72"/></g>
<polyline points="1593.2,2198.4 1606.2,2100.3 1682.3,1994.3 1719.2,1944.2 1773.2,1879.5 1787.5,1862.3 1846.5,1796.4 2018.4,1612.1 2028.3,1602.2 2089.7,1552.1 2247.4,1432.1 2324.1,1397.9 2373,1381 2428.1,1371.9 2474,1360.5 2485.4,1359.8 2502.3,1359.1" fill="none" stroke="#FF00FF" stroke-width="4.17" stroke-linejoin="round" stroke-linecap="square"/>
<g fill="#FF00FF" stroke="#000" stroke-width="1.4"><circle cx="1593.2" cy="2198.4" r="9.72"/><circle cx="1606.2" cy="2100.3" r="9.72"/><circle cx="1682.3" cy="1994.3" r="9.72"/><circle cx="1719.2" cy="1944.2" r="9.72"/><circle cx="1773.2" cy="1879.5" r="9.72"/><circle cx="1787.5" cy="1862.3" r="9.72"/><circle cx="1846.5" cy="1796.4" r="9.72"/><circle cx="2018.4" cy="1612.1" r="9.72"/><circle cx="2028.3" cy="1602.2" r="9.72"/><circle cx="2089.7" cy="1552.1" r="9.72"/><circle cx="2247.4" cy="1432.1" r="9.72"/><circle cx="2324.1" cy="1397.9" r="9.72"/><circle cx="2373" cy="1381" r="9.72"/><circle cx="2428.1" cy="1371.9" r="9.72"/><circle cx="2474" cy="1360.5" r="9.72"/><circle cx="2485.4" cy="1359.8" r="9.72"/><circle cx="2502.3" cy="1359.1" r="9.72"/></g>
<polyline points="1716.1,1543.8 1717.9,1541.2 1727.5,1536.2 1764.9,1520.4 1773.8,1517 1778.4,1515.2 1804.9,1505.3 1815.8,1501.4 1829.6,1496.5 1865.5,1485.3 1939.5,1466.1 2095.5,1423 2321.5,1375.9 2333.8,1374.4 2376.1,1369.6 2425,1366 2454,1364.5 2480,1363.5" fill="none" stroke="#228B22" stroke-width="4.17" stroke-linejoin="round" stroke-linecap="square"/>
<g fill="#228B22" stroke="#000" stroke-width="1.4"><circle cx="1716.1" cy="1543.8" r="9.72"/><circle cx="1717.9" cy="1541.2" r="9.72"/><circle cx="1727.5" cy="1536.2" r="9.72"/><circle cx="1764.9" cy="1520.4" r="9.72"/><circle cx="1773.8" cy="1517" r="9.72"/><circle cx="1778.4" cy="1515.2" r="9.72"/><circle cx="1804.9" cy="1505.3" r="9.72"/><circle cx="1815.8" cy="1501.4" r="9.72"/><circle cx="1829.6" cy="1496.5" r="9.72"/><circle cx="1865.5" cy="1485.3" r="9.72"/><circle cx="1939.5" cy="1466.1" r="9.72"/><circle cx="2095.5" cy="1423" r="9.72"/><circle cx="2321.5" cy="1375.9" r="9.72"/><circle cx="2333.8" cy="1374.4" r="9.72"/><circle cx="2376.1" cy="1369.6" r="9.72"/><circle cx="2425" cy="1366" r="9.72"/><circle cx="2454" cy="1364.5" r="9.72"/><circle cx="2480" cy="1363.5" r="9.72"/></g>
<polyline points="1590.6,2193 1594.5,2159.5 1620.5,2077.9 1788.6,1857.1 1977.1,1651.6 2044.4,1584.3 2102.7,1532.1 2211.6,1454.2 2253.9,1427.4 2325.7,1394.9 2338.4,1390.8 2356.8,1384.6 2411.1,1373.8 2440,1369.2 2457,1366 2475.3,1364.5 2488.8,1363.2 2495.6,1362.9 2502.3,1362.5 2510.4,1362.1 2521.3,1361.9" fill="none" stroke="#00FFFF" stroke-width="4.17" stroke-linejoin="round" stroke-linecap="square"/>
<g fill="#00FFFF" stroke="#000" stroke-width="1.4"><circle cx="1590.6" cy="2193" r="9.72"/><circle cx="1594.5" cy="2159.5" r="9.72"/><circle cx="1620.5" cy="2077.9" r="9.72"/><circle cx="1788.6" cy="1857.1" r="9.72"/><circle cx="1977.1" cy="1651.6" r="9.72"/><circle cx="2044.4" cy="1584.3" r="9.72"/><circle cx="2102.7" cy="1532.1" r="9.72"/><circle cx="2211.6" cy="1454.2" r="9.72"/><circle cx="2253.9" cy="1427.4" r="9.72"/><circle cx="2325.7" cy="1394.9" r="9.72"/><circle cx="2338.4" cy="1390.8" r="9.72"/><circle cx="2356.8" cy="1384.6" r="9.72"/><circle cx="2411.1" cy="1373.8" r="9.72"/><circle cx="2440" cy="1369.2" r="9.72"/><circle cx="2457" cy="1366" r="9.72"/><circle cx="2475.3" cy="1364.5" r="9.72"/><circle cx="2488.8" cy="1363.2" r="9.72"/><circle cx="2495.6" cy="1362.9" r="9.72"/><circle cx="2502.3" cy="1362.5" r="9.72"/><circle cx="2510.4" cy="1362.1" r="9.72"/><circle cx="2521.3" cy="1361.9" r="9.72"/></g>
<polyline points="1593.2,1657.3 1616.1,1625.1 1784.2,1544.3 1837.4,1522.2 1935.3,1484.5 1980.3,1467.9 2021.3,1454.2 2057.8,1441.7 2095.5,1430.3 2130.5,1420.1 2163.2,1412.3 2192.3,1404.3 2266.4,1387.1 2287.1,1383.5 2307.2,1379.4 2351.3,1371.4 2398,1366.2 2411.2,1365.1 2424,1364.2 2438.2,1363.3 2457,1363 2477.3,1362.5" fill="none" stroke="#1E90FF" stroke-width="4.17" stroke-linejoin="round" stroke-linecap="square"/>
<g fill="#1E90FF" stroke="#000" stroke-width="1.4"><circle cx="1593.2" cy="1657.3" r="9.72"/><circle cx="1616.1" cy="1625.1" r="9.72"/><circle cx="1784.2" cy="1544.3" r="9.72"/><circle cx="1837.4" cy="1522.2" r="9.72"/><circle cx="1935.3" cy="1484.5" r="9.72"/><circle cx="1980.3" cy="1467.9" r="9.72"/><circle cx="2021.3" cy="1454.2" r="9.72"/><circle cx="2057.8" cy="1441.7" r="9.72"/><circle cx="2095.5" cy="1430.3" r="9.72"/><circle cx="2130.5" cy="1420.1" r="9.72"/><circle cx="2163.2" cy="1412.3" r="9.72"/><circle cx="2192.3" cy="1404.3" r="9.72"/><circle cx="2266.4" cy="1387.1" r="9.72"/><circle cx="2287.1" cy="1383.5" r="9.72"/><circle cx="2307.2" cy="1379.4" r="9.72"/><circle cx="2351.3" cy="1371.4" r="9.72"/><circle cx="2398" cy="1366.2" r="9.72"/><circle cx="2411.2" cy="1365.1" r="9.72"/><circle cx="2424" cy="1364.2" r="9.72"/><circle cx="2438.2" cy="1363.3" r="9.72"/><circle cx="2457" cy="1363" r="9.72"/><circle cx="2477.3" cy="1362.5" r="9.72"/></g>
<path d="M2517.5 1345.4L2498.9 1382.6L2536.1 1382.6Z" fill="#FFFF00" stroke="#000" stroke-width="2.8" stroke-linejoin="miter" stroke-miterlimit="10"/>
</g>
<rect x="1855.4" y="1865.4" width="691.6" height="355.6" rx="7.8" fill="#E5E5E5" fill-opacity="0.8" stroke="#CCCCCC" stroke-opacity="0.8" stroke-width="1.4"/>
<path d="M1909.1 1881.5L1889.7 1920.4L1928.6 1920.4Z" fill="#FFFF00" stroke="#000" stroke-width="2.0" stroke-linejoin="miter" stroke-miterlimit="10"/>
<g font-size="38.89" fill="#000">
<text x="1978.8" y="1910.8">Base Model</text>
<path d="M1869.7 1954.8H1947.6" stroke="#8B0000" stroke-width="4.17" stroke-linecap="square"/>
<circle cx="1909.1" cy="1954.8" r="9.72" fill="#8B0000" stroke="#000" stroke-width="1.4"/>
<text x="1978.8" y="1968.1">Predictor Rescaling</text>
<path d="M1869.7 2012.1H1947.6" stroke="#FF00FF" stroke-width="4.17" stroke-linecap="square"/>
<circle cx="1909.1" cy="2012.1" r="9.72" fill="#FF00FF" stroke="#000" stroke-width="1.4"/>
<text x="1978.8" y="2025.4">Additive Model Correction</text>
<path d="M1869.7 2069.4H1947.6" stroke="#228B22" stroke-width="4.17" stroke-linecap="square"/>
<circle cx="1909.1" cy="2069.4" r="9.72" fill="#228B22" stroke="#000" stroke-width="1.4"/>
<text x="1978.8" y="2082.7">Tree Rebalancing</text>
<path d="M1869.7 2126.7H1947.6" stroke="#00FFFF" stroke-width="4.17" stroke-linecap="square"/>
<circle cx="1909.1" cy="2126.7" r="9.72" fill="#00FFFF" stroke="#000" stroke-width="1.4"/>
<text x="1978.8" y="2140">Shapley Rebalancing</text>
<path d="M1869.7 2184H1947.6" stroke="#1E90FF" stroke-width="4.17" stroke-linecap="square"/>
<circle cx="1909.1" cy="2184" r="9.72" fill="#1E90FF" stroke="#000" stroke-width="1.4"/>
<text x="1978.8" y="2197.3">Optimal Transport Projection</text>
</g>
</g>
</svg>
</body></html>
